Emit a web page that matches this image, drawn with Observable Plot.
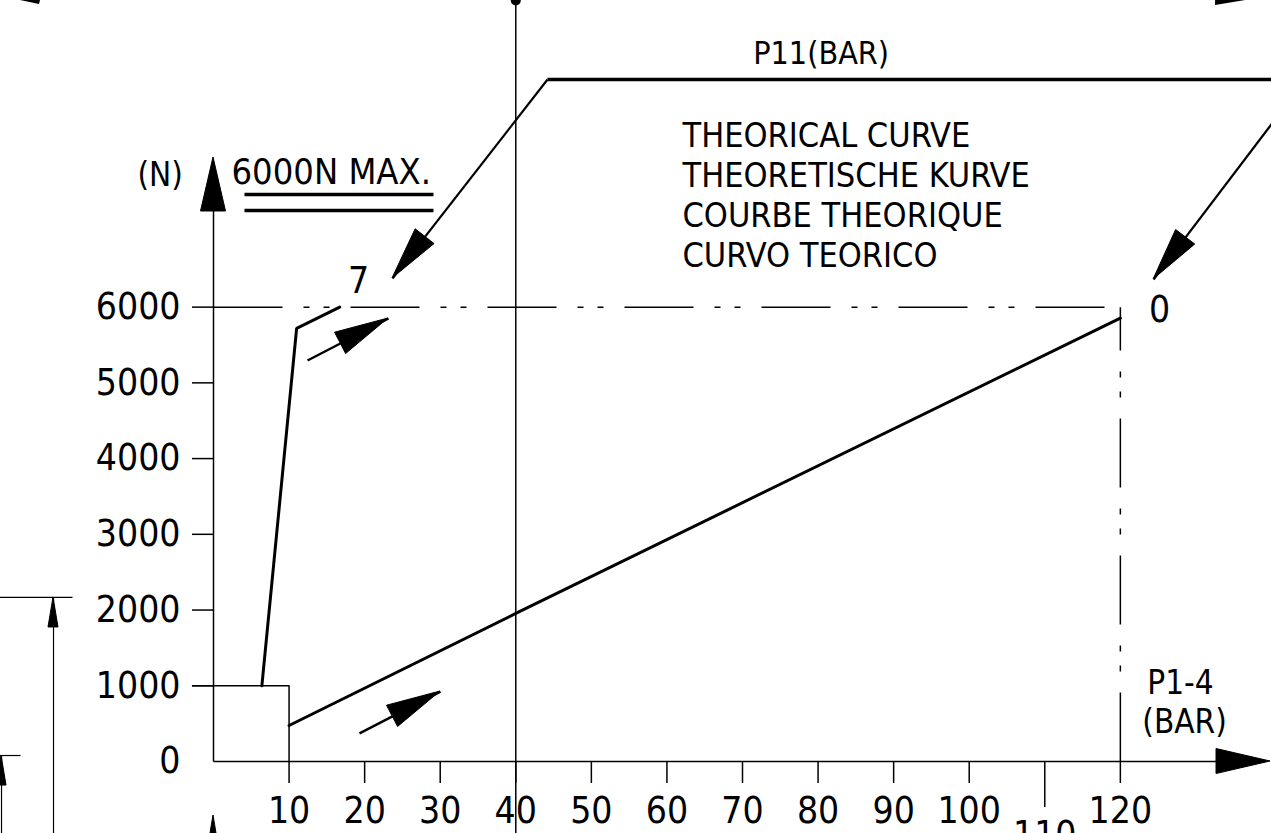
<!DOCTYPE html>
<html><head><meta charset="utf-8">
<script src="https://cdn.jsdelivr.net/npm/d3@7"></script>
<script src="https://cdn.jsdelivr.net/npm/@observablehq/plot@0.6"></script>
<style>html,body{margin:0;padding:0;background:#fff;overflow:hidden}</style>
</head><body><div id="chart"></div>
<script>
const FONT = "'DejaVu Sans Condensed', 'DejaVu Sans', sans-serif";

// ---- tick values ----
const yTicks = [1000, 2000, 3000, 4000, 5000, 6000];
const yZero = [0];
const xTicks = [10, 20, 30, 40, 50, 60, 70, 80, 90, 100, 120];
const xTickLow = [110];

// ---- theoretical curves: force (N) vs P1-4 (bar) ----
const curveP11_7 = [{x: 6.4, y: 1000}, {x: 11, y: 5720}, {x: 16.7, y: 6000}];
const curveP11_0 = [{x: 10, y: 475}, {x: 40, y: 1955}, {x: 120, y: 5855}];

// ---- reference lines ----
const maxForce = [{x: 0, y: 6000}, {x: 120, y: 6000}];
const maxPressure = [{x: 120, y: 0}, {x: 120, y: 6000}];
const guideX = [40];
const guideTop = [{x: 40, y: 10049}];
const box = [{x: -2.78, y: 1000}, {x: 10, y: 1000}, {x: 10, y: 0}];

// ---- axes lines & arrows ----
const axisLines = [
  {x1: 0, y1: 0, x2: 0, y2: 7300},
  {x1: 0, y1: 0, x2: 133, y2: 0}
];
const axisArrows = [
  {x1: 0, y1: 0, x2: 0, y2: 7976},
  {x1: 0, y1: 0, x2: 139.87, y2: 0}
];
const flowArrows = [
  {x1: 12.44, y1: 5295, x2: 23.16, y2: 5850},
  {x1: 19.32, y1: 370, x2: 30.04, y2: 924}
];
const leaderArrows = [
  {x1: 44.2, y1: 9006, x2: 23.69, y2: 6378},
  {x1: 144.5, y1: 9006, x2: 124.4, y2: 6365}
];
const leaderTop = [{x1: 44.2, y1: 9006, x2: 141, y2: 9006}];
const underlines = [
  {x1: 4.1, y1: 7487, x2: 29.11, y2: 7487},
  {x1: 4.1, y1: 7276, x2: 29.11, y2: 7276}
];
const dimLines = [
  {x1: -28.3, y1: 2166, x2: -18.66, y2: 2166},
  {x1: -21.17, y1: 2166, x2: -21.17, y2: -960},
  {x1: -28.3, y1: 79, x2: -25.54, y2: 79},
  {x1: -28.05, y1: 79, x2: -28.05, y2: -960}
];
const dimArrows = [
  {x1: -21.17, y1: 0, x2: -21.17, y2: 2166},
  {x1: -28.05, y1: -900, x2: -28.05, y2: 79},
  {x1: 0, y1: -1500, x2: 0, y2: -713}
];
const fragments = [
  [{x: -25.54, y: 10049}, {x: -22.89, y: 10049}, {x: -23.02, y: 9996}],
  [{x: 132.6, y: 9983}, {x: 132.6, y: 10049}, {x: 136.6, y: 10049}]
];

// ---- labels ----
const unitLabel = [{x: -7.05, y: 7600, text: "(N)"}];
const maxLabel = [{x: 2.38, y: 7632, text: "6000N MAX."}];
const curveLabels = [
  {x: 19.19, y: 6180, text: "7"},
  {x: 125.2, y: 5810, text: "0"}
];
const p11Label = [{x: 80.4, y: 9204, text: "P11(BAR)"}];
const titleLines = [
  {x: 62.06, y: 8108, text: "THEORICAL CURVE"},
  {x: 62.06, y: 7580, text: "THEORETISCHE KURVE"},
  {x: 62.06, y: 7052, text: "COURBE THEORIQUE"},
  {x: 62.06, y: 6536, text: "CURVO TEORICO"}
];
const xUnitLabel = [
  {x: 127.96, y: 885, text: "P1-4"},
  {x: 128.5, y: 370, text: "(BAR)"}
];

function heads(data, len, wid) {
  return (index, scales) => {
    const g = d3.create("svg:g");
    for (const d of data) {
      const x1 = scales.x(d.x1), y1 = scales.y(d.y1), x2 = scales.x(d.x2), y2 = scales.y(d.y2);
      const dx = x2 - x1, dy = y2 - y1, L = Math.hypot(dx, dy), ux = dx / L, uy = dy / L;
      const bx = x2 - ux * len, by = y2 - uy * len;
      g.append("path")
        .attr("d", `M${x2},${y2}L${bx - uy * wid / 2},${by + ux * wid / 2}L${bx + uy * wid / 2},${by - ux * wid / 2}Z`)
        .attr("fill", "black").attr("stroke", "black").attr("stroke-width", 1);
    }
    return g.node();
  };
}
function polygons(list) {
  return (index, scales) => {
    const g = d3.create("svg:g");
    for (const p of list) {
      g.append("path").attr("d", "M" + p.map(d => `${scales.x(d.x)},${scales.y(d.y)}`).join("L") + "Z").attr("fill", "black");
    }
    return g.node();
  };
}

const fmt = d => `${d}`;
const chart = Plot.plot({
  width: 1271,
  height: 833,
  marginLeft: 213,
  marginRight: 0,
  marginTop: 0,
  marginBottom: 72,
  style: {background: "white", color: "black", fontFamily: FONT},
  x: {domain: [0, 140], axis: null, label: null},
  y: {domain: [0, 10049], axis: null, label: null},
  marks: [
    Plot.axisY(yTicks, {tickSize: 21, tickPadding: 12, fontSize: 37, strokeWidth: 1.5, tickFormat: fmt, label: null, fontFamily: FONT}),
    Plot.axisY(yZero, {tickSize: 0, tickPadding: 33, fontSize: 37, tickFormat: fmt, label: null, fontFamily: FONT}),
    Plot.axisX(xTicks, {tickSize: 22, tickPadding: 13, fontSize: 37, strokeWidth: 1.5, tickFormat: fmt, label: null, fontFamily: FONT}),
    Plot.axisX(xTickLow, {tickSize: 46, tickPadding: 13, fontSize: 37, strokeWidth: 1.5, tickFormat: fmt, label: null, fontFamily: FONT}),
    Plot.link(axisLines, {x1: "x1", y1: "y1", x2: "x2", y2: "y2", strokeWidth: 1.5}),
    heads(axisArrows, 54, 25),
    Plot.ruleX(guideX, {y1: -960, y2: 10049, strokeWidth: 1.5}),
    Plot.dot(guideTop, {x: "x", y: "y", r: 5, fill: "black"}),
    Plot.line(box, {x: "x", y: "y", strokeWidth: 1.5, curve: "linear"}),
    Plot.line(maxForce, {x: "x", y: "y", strokeWidth: 1.5, strokeDasharray: "69,21,6,14,6,21", strokeLinecap: "butt"}),
    Plot.line(maxPressure, {x: "x", y: "y", strokeWidth: 1.5, strokeDasharray: "69,21,6,14,6,21", strokeLinecap: "butt"}),
    Plot.line(curveP11_7, {x: "x", y: "y", strokeWidth: 3, strokeLinejoin: "miter"}),
    Plot.line(curveP11_0, {x: "x", y: "y", strokeWidth: 3}),
    Plot.link(flowArrows, {x1: "x1", y1: "y1", x2: "x2", y2: "y2", strokeWidth: 2.5}),
    heads(flowArrows, 54, 24),
    Plot.link(leaderArrows, {x1: "x1", y1: "y1", x2: "x2", y2: "y2", strokeWidth: 2.2}),
    heads(leaderArrows, 53, 24),
    Plot.link(leaderTop, {x1: "x1", y1: "y1", x2: "x2", y2: "y2", strokeWidth: 3.5}),
    Plot.link(underlines, {x1: "x1", y1: "y1", x2: "x2", y2: "y2", strokeWidth: 3.5}),
    Plot.link(dimLines, {x1: "x1", y1: "y1", x2: "x2", y2: "y2", strokeWidth: 1.2}),
    heads(dimArrows, 30, 10),
    polygons(fragments),
    Plot.text(unitLabel, {x: "x", y: "y", text: "text", fontSize: 33, lineAnchor: "bottom", textAnchor: "middle"}),
    Plot.text(maxLabel, {x: "x", y: "y", text: "text", fontSize: 36, lineAnchor: "bottom", textAnchor: "start"}),
    Plot.text(curveLabels, {x: "x", y: "y", text: "text", fontSize: 37, lineAnchor: "bottom", textAnchor: "middle"}),
    Plot.text(p11Label, {x: "x", y: "y", text: "text", fontSize: 32, lineAnchor: "bottom", textAnchor: "middle"}),
    Plot.text(titleLines, {x: "x", y: "y", text: "text", fontSize: 34, lineAnchor: "bottom", textAnchor: "start"}),
    Plot.text(xUnitLabel, {x: "x", y: "y", text: "text", fontSize: 33, lineAnchor: "bottom", textAnchor: "middle"})
  ]
});
document.getElementById("chart").append(chart);
</script>
</body></html>
